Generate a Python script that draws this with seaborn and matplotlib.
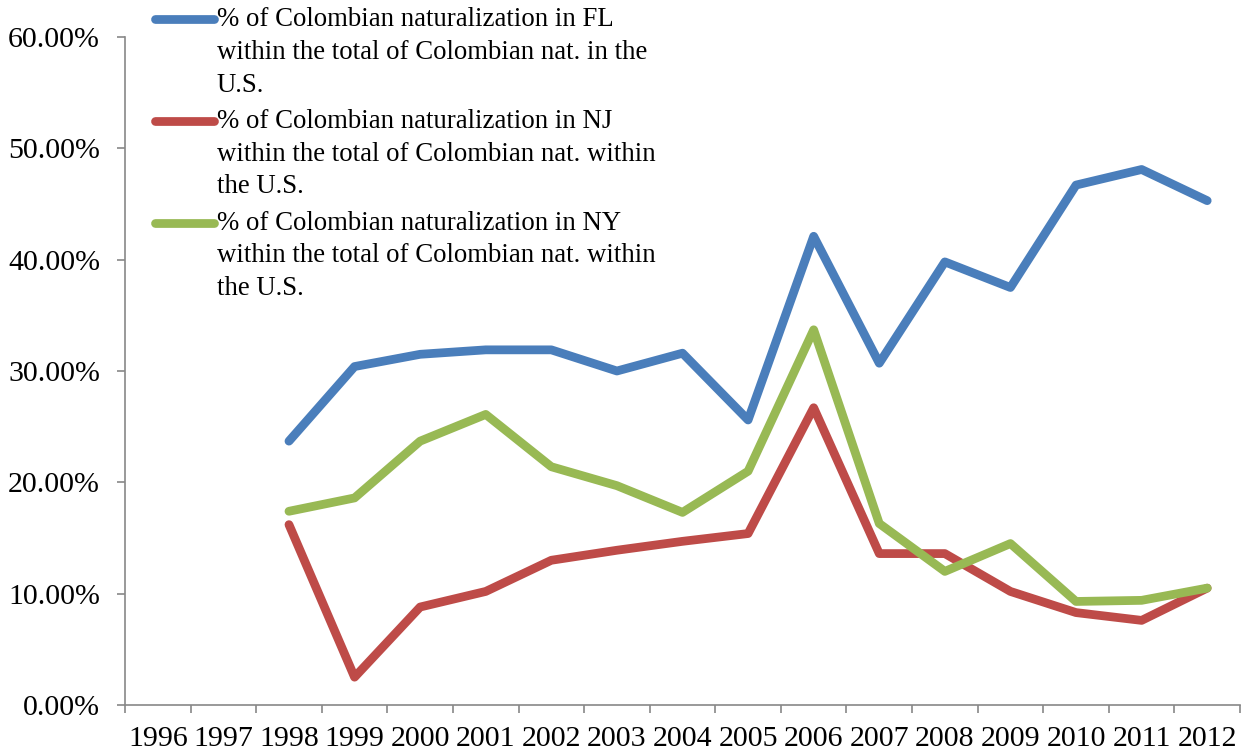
import numpy as np
import pandas as pd
import seaborn as sns
import matplotlib.pyplot as plt
from matplotlib.ticker import PercentFormatter, FixedLocator
from matplotlib.legend_handler import HandlerLine2D

# Share of Colombian naturalizations by state (fraction of U.S. total)
years = list(range(1996, 2013))
fl_share = [np.nan, np.nan, 0.237, 0.304, 0.315, 0.319, 0.319, 0.300, 0.316,
            0.256, 0.421, 0.307, 0.398, 0.375, 0.467, 0.481, 0.453]
nj_share = [np.nan, np.nan, 0.162, 0.025, 0.088, 0.102, 0.130, 0.139, 0.147,
            0.154, 0.267, 0.136, 0.136, 0.102, 0.083, 0.076, 0.105]
ny_share = [np.nan, np.nan, 0.174, 0.186, 0.237, 0.261, 0.214, 0.197, 0.173,
            0.210, 0.337, 0.163, 0.120, 0.145, 0.093, 0.094, 0.105]

series_labels = [
    "% of Colombian naturalization in FL\nwithin the total of Colombian nat. in the\nU.S.",
    "% of Colombian naturalization in NJ\nwithin the total of Colombian nat. within\nthe U.S.",
    "% of Colombian naturalization in NY\nwithin the total of Colombian nat. within\nthe U.S.",
]
colors = ["#4A7EBB", "#BE4B48", "#98B954"]

df = pd.DataFrame({
    "year": years * 3,
    "share": fl_share + nj_share + ny_share,
    "series": [series_labels[0]] * len(years) + [series_labels[1]] * len(years)
              + [series_labels[2]] * len(years),
}).dropna()

sns.set_theme(style="white")
plt.rcParams["font.family"] = ["Liberation Serif", "DejaVu Serif"]
plt.rcParams["text.color"] = "black"

fig = plt.figure(figsize=(12.44, 7.52), dpi=100)
ax = fig.add_axes([125 / 1244, 47 / 752, 1115 / 1244, 668 / 752])

sns.lineplot(data=df, x="year", y="share", hue="series",
             hue_order=series_labels, palette=colors, linewidth=6.3,
             legend=False, ax=ax, solid_capstyle="round",
             solid_joinstyle="round")

ax.set_xlim(years[0] - 0.5, years[-1] + 0.5)
ax.set_ylim(0, 0.6)
ax.set_xlabel("")
ax.set_ylabel("")

ax.yaxis.set_major_locator(FixedLocator(np.arange(0, 0.61, 0.1)))
ax.yaxis.set_major_formatter(PercentFormatter(1.0, decimals=2))
ax.set_xticks(years)
ax.set_xticklabels([str(y) for y in years])
ax.set_xticks([y - 0.5 for y in years] + [years[-1] + 0.5], minor=True)

spine_color = "#888888"
for side in ["top", "right"]:
    ax.spines[side].set_visible(False)
for side in ["left", "bottom"]:
    ax.spines[side].set_color(spine_color)
    ax.spines[side].set_linewidth(1.2)

ax.tick_params(axis="y", which="major", direction="out", length=6,
               width=1.2, color=spine_color, pad=12, labelsize=21.5,
               labelcolor="black", left=True)
ax.tick_params(axis="x", which="major", length=0, pad=15, labelsize=21.5,
               labelcolor="black", bottom=True)
ax.tick_params(axis="x", which="minor", direction="out", length=6,
               width=1.2, color=spine_color, bottom=True)


class FirstLineHandler(HandlerLine2D):
    """Legend line aligned with the first row of a multi-line label."""

    def __init__(self, shift, **kw):
        super().__init__(**kw)
        self.shift = shift

    def create_artists(self, legend, orig_handle, xdescent, ydescent,
                       width, height, fontsize, trans):
        artists = super().create_artists(legend, orig_handle, xdescent,
                                         ydescent, width, height, fontsize,
                                         trans)
        for a in artists:
            y = np.asarray(a.get_ydata(), dtype=float)
            a.set_ydata(y + self.shift)
            a.set_solid_capstyle("round")
        return artists


legend_size = 19.3
row_px = 33.0
handles = ax.get_lines()[:3]
shift = row_px * 72 / 100
leg = fig.legend(handles, series_labels, loc="upper left",
                 bbox_to_anchor=(155 / 1244, 1 - 7 / 752),
                 frameon=False, fontsize=legend_size, handlelength=2.2,
                 handletextpad=0.1, labelspacing=0.42, borderpad=0,
                 borderaxespad=0, labelcolor="black",
                 handler_map={h: FirstLineHandler(shift) for h in handles})
for t in leg.get_texts():
    t.set_linespacing(1.41)

fig.savefig("out.png", dpi=100, facecolor="white")
